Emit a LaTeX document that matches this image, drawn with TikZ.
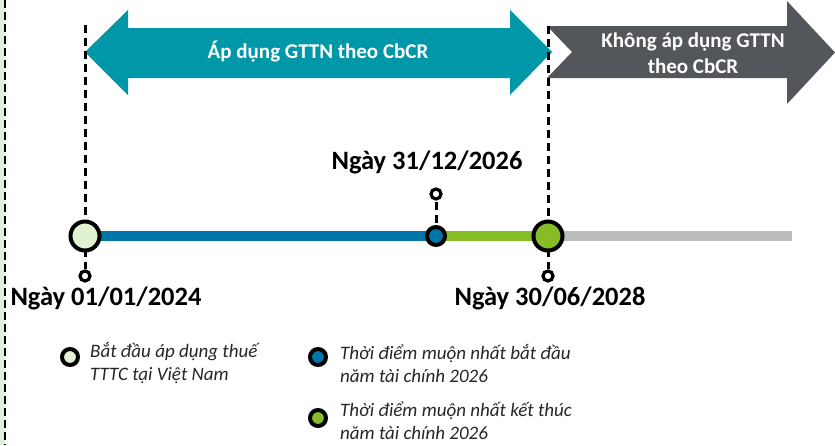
\documentclass[tikz,border=0pt]{standalone}
\usepackage{fontspec}
\setmainfont{Carlito}
\usetikzlibrary{positioning}
\definecolor{cbcrteal}{HTML}{0097A9}
\definecolor{nocbcr}{HTML}{53565A}
\definecolor{tlblue}{HTML}{0076A8}
\definecolor{tlgreen}{HTML}{86BC25}
\definecolor{tlgray}{HTML}{BBBCBC}
\definecolor{palegreen}{HTML}{E3F1D3}
\definecolor{stripgreen}{HTML}{E2EFDA}

\begin{document}
\begin{tikzpicture}[x=1pt,y=-1pt,
  datedot/.style={circle,draw=black,line width=4pt,inner sep=0pt},
  pindot/.style={circle,draw=black,line width=3.2pt,fill=white,inner sep=0pt,minimum size=10pt},
  legdot/.style={circle,draw=black,line width=4pt,inner sep=0pt,minimum size=16pt},
  guide/.style={black,line width=3pt,dash pattern=on 8pt off 5pt},
  arrowtxt/.style={text=white,font=\bfseries\fontsize{21}{25.6}\selectfont,inner sep=0pt},
  datelbl/.style={font=\bfseries\fontsize{26.5}{30}\selectfont,inner sep=0pt},
  legtxt/.style={text=black!85,font=\itshape\fontsize{19}{23}\selectfont,align=left,inner sep=0pt}]
 \useasboundingbox (0,0) rectangle (835,445);
 \fill[stripgreen](0,0) rectangle (5,445);
 \draw[line width=2.6pt,dash pattern=on 8pt off 4pt](5,0)--(5,445);
 % the two periods
 \fill[cbcrteal](85,52)--(128,10)--(128,28)--(510,28)--(510,10)--(552,52)--(510,95)--(510,78)--(128,78)--(128,95)--cycle;
 \fill[nocbcr](547,26)--(787,26)--(787,1)--(835,52.5)--(787,104)--(787,78)--(547,78)--(572,52)--cycle;
 \node[arrowtxt] (apply) at (318,52) {Áp dụng GTTN theo CbCR};
 \node[arrowtxt,align=center] (noapply) at (693,53) {Không áp dụng GTTN\\theo CbCR};
 % timeline
 \coordinate (d1) at (85,236);
 \coordinate (d2) at (436,236);
 \coordinate (d3) at (548,236);
 \coordinate (tlend) at (792,236);
 \draw[tlblue,line width=10pt](d1)--(d2);
 \draw[tlgreen,line width=10pt](d2)--(d3);
 \draw[tlgray,line width=10pt](d3)--(tlend);
 \coordinate (top1) at (85,25);
 \coordinate (top3) at (548,26);
 \draw[guide](top1)--(d1);
 \draw[guide](top3)--(d3);
 \node[pindot] (pin1) at (85,276) {};
 \node[pindot] (pin2) at (436,194) {};
 \node[pindot] (pin3) at (548,276) {};
 \draw[guide](d1)--(pin1);
 \draw[guide](d2)--(pin2);
 \draw[guide](d3)--(pin3);
 \node[datedot,fill=palegreen,minimum size=29pt] (start) at (d1) {};
 \node[datedot,fill=tlblue,minimum size=18pt] (fystart) at (d2) {};
 \node[datedot,fill=tlgreen,minimum size=29pt] (fyend) at (d3) {};
 \node[datelbl] (lbl1) at (106,298) {Ngày 01/01/2024};
 \node[datelbl] (lbl2) at (427,162) {Ngày 31/12/2026};
 \node[datelbl] (lbl3) at (550,298) {Ngày 30/06/2028};
 % legend
 \node[legdot,fill=palegreen] (key1) at (70,357) {};
 \node[legdot,fill=tlblue] (key2) at (318,357) {};
 \node[legdot,fill=tlgreen] (key3) at (318,418) {};
 \node[legtxt,right=10pt of key1,yshift=-6pt] (keytxt1) {Bắt đầu áp dụng thuế\\TTTC tại Việt Nam};
 \node[legtxt,right=12pt of key2,yshift=-6pt] (keytxt2) {Thời điểm muộn nhất bắt đầu\\năm tài chính 2026};
 \node[legtxt,right=12pt of key3,yshift=-3pt] (keytxt3) {Thời điểm muộn nhất kết thúc\\năm tài chính 2026};
\end{tikzpicture}
\end{document}
